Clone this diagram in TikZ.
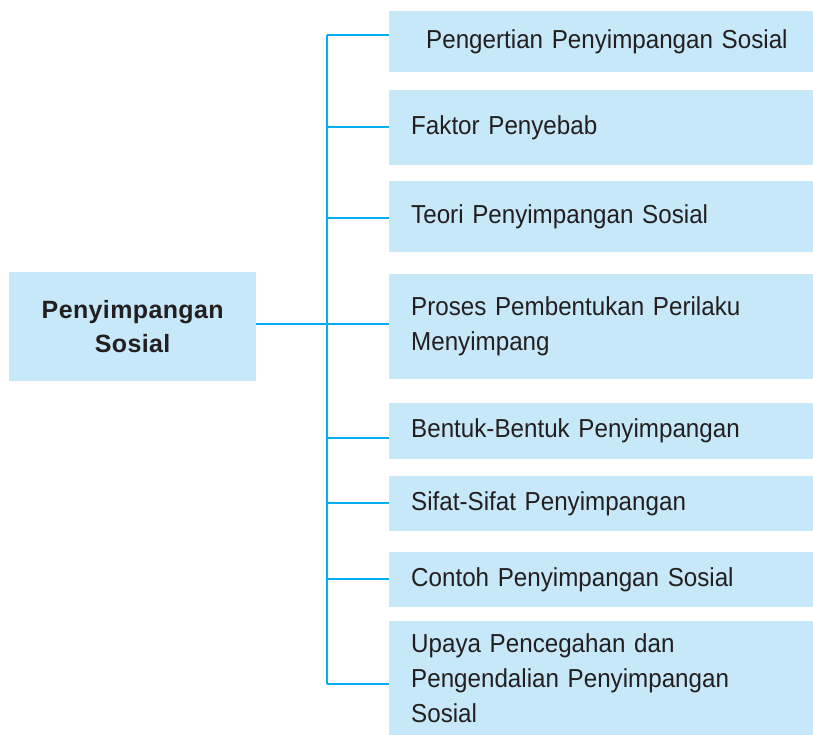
\documentclass[tikz,border=0pt]{standalone}
\usepackage{fontspec}
\setmainfont{Liberation Sans}[FakeStretch=0.93,WordSpace=1.5]
\newfontfamily\headfont{Liberation Sans}[LetterSpace=1.5,WordSpace=1.5]
\definecolor{boxfill}{HTML}{C6E8F8}
\definecolor{linecol}{HTML}{00AEEF}
\definecolor{txt}{HTML}{231F20}
\tikzset{
  item/.style={fill=boxfill, draw=none, anchor=north west, minimum width=424pt,
    text width=380pt, inner xsep=22pt, inner ysep=0pt, align=left,
    font=\fontsize{26}{35}\selectfont, text=txt},
  head/.style={fill=boxfill, draw=none, anchor=north west, minimum width=247pt,
    minimum height=109pt, align=center, inner sep=0pt,
    font=\headfont\bfseries\fontsize{25}{34}\selectfont, text=txt},
  conn/.style={draw=linecol, line width=1.5pt}
}
\begin{document}
\begin{tikzpicture}[x=1pt,y=-1pt]
\useasboundingbox (0,0) rectangle (813,735);
\node[head] (c) at (9,272) {Penyimpangan\\Sosial};
\node[item, minimum height=61pt, inner xsep=37pt, text width=365pt] (b1) at (389,11) {Pengertian Penyimpangan Sosial};
\node[item, minimum height=75pt] (b2) at (389,90) {Faktor Penyebab};
\node[item, minimum height=71pt] (b3) at (389,181) {Teori Penyimpangan Sosial};
\node[item, minimum height=105pt] (b4) at (389,274) {Proses Pembentukan Perilaku\\Menyimpang};
\node[item, minimum height=56pt] (b5) at (389,403) {Bentuk-Bentuk Penyimpangan};
\node[item, minimum height=55pt] (b6) at (389,476) {Sifat-Sifat Penyimpangan};
\node[item, minimum height=55pt] (b7) at (389,552) {Contoh Penyimpangan Sosial};
\node[item, minimum height=114pt] (b8) at (389,621) {Upaya Pencegahan dan\\Pengendalian Penyimpangan\\Sosial};
\coordinate (t) at (327,0);
\coordinate (l1) at ([yshift=6.5pt]b1.west);
\coordinate (l2) at ([yshift=0.5pt]b2.west);
\coordinate (l3) at ([yshift=-1.5pt]b3.west);
\coordinate (l4) at ([yshift=2.5pt]b4.west);
\coordinate (l5) at ([yshift=-7pt]b5.west);
\coordinate (l6) at ([yshift=0.5pt]b6.west);
\coordinate (l7) at ([yshift=0.5pt]b7.west);
\coordinate (l8) at ([yshift=-6pt]b8.west);
\coordinate (l0) at ([yshift=2.5pt]c.east);
\draw[conn] (l1 -| t) -- (l8 -| t);
\foreach \k in {1,...,8} { \draw[conn] (l\k -| t) -- (l\k); }
\draw[conn] (l0) -- (l0 -| t);
\end{tikzpicture}
\end{document}
